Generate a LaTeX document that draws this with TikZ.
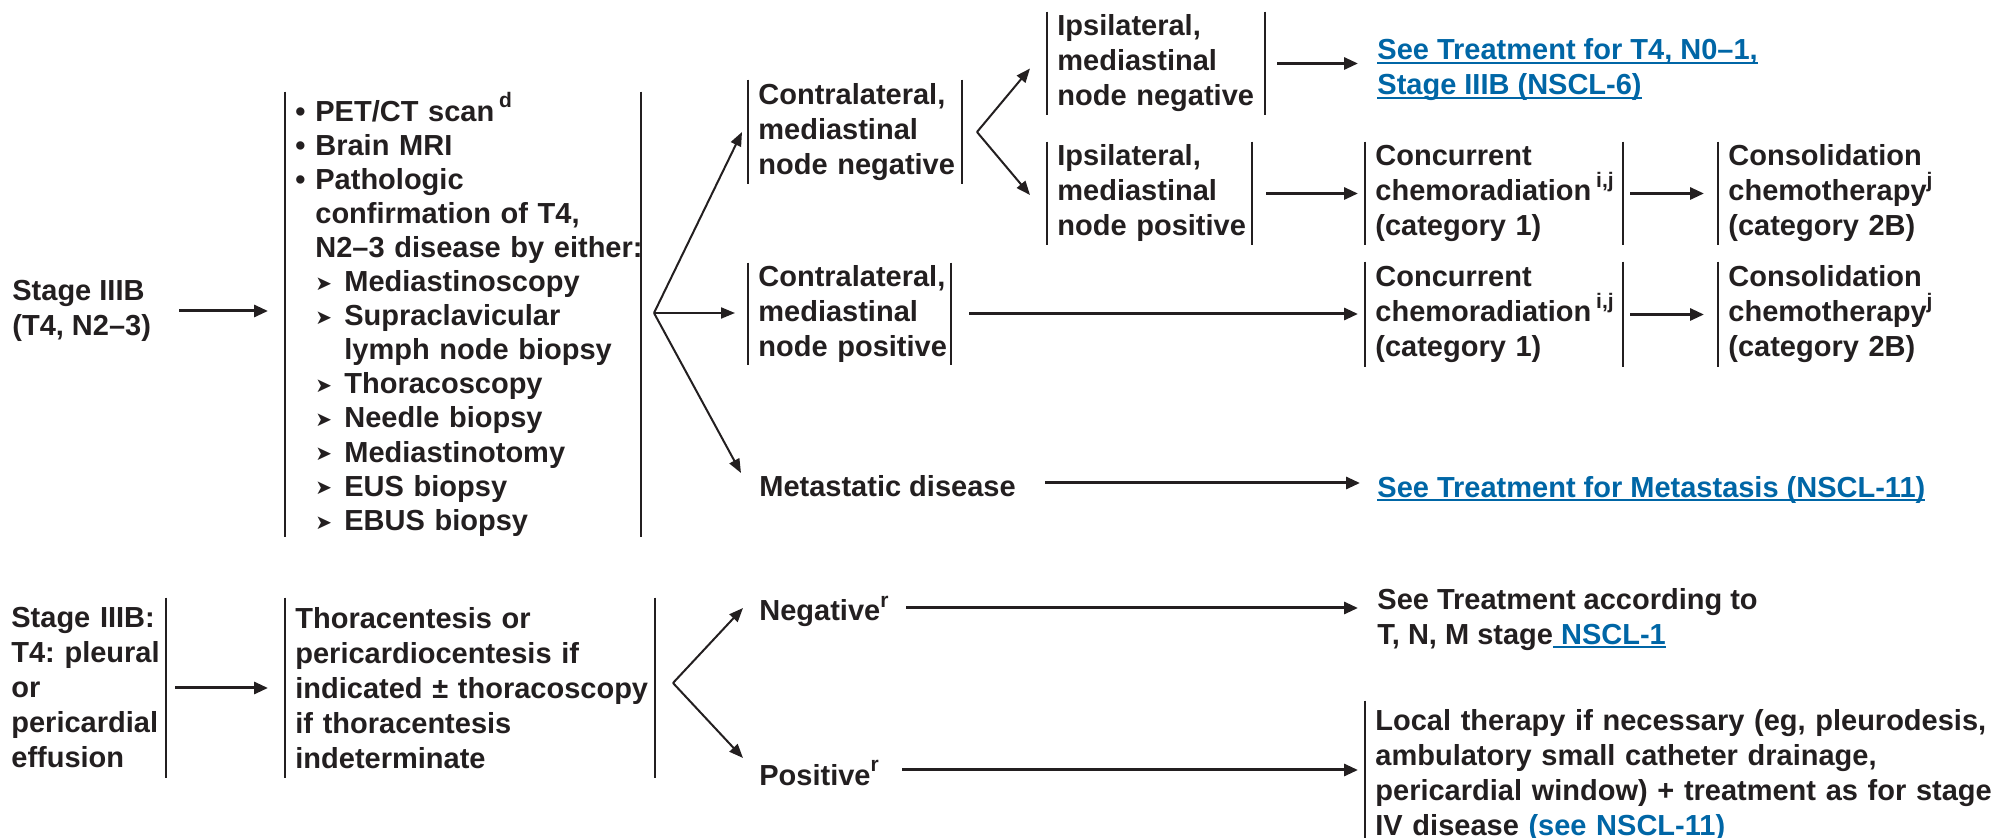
\documentclass[tikz,border=0pt]{standalone}
\usepackage{fontspec}
\setmainfont{Liberation Sans}
\newfontfamily\dejavu{DejaVu Sans}
\usetikzlibrary{arrows.meta}
\setlength\parindent{0pt}
\frenchspacing
\definecolor{ink}{RGB}{35,31,32}
\definecolor{link}{RGB}{0,102,166}
% small raised footnote letters
\newcommand\supr[1]{\raisebox{0.85ex}{\fontsize{10.5}{10.5}\selectfont #1}}
% underlined cross-reference in link colour
\newcommand\lnk[1]{{\color{link}\setbox0\hbox{#1}\rlap{\rule[-1.9pt]{\wd0}{1.1pt}}\box0}}
% list markers
\newcommand\tri{\makebox[14.5pt][l]{\raisebox{0.6pt}{\dejavu\fontsize{10}{10}\selectfont ➤}}}
\newcommand\bul{\makebox[10pt][l]{\textbullet}}
% side rules of a step box
\newcommand\lbar[1]{\draw[bar] (#1.north west) -- (#1.south west);}
\newcommand\rbar[2]{\draw[bar] ([xshift=#2]#1.north west) -- ([xshift=#2]#1.south west);}

\begin{document}
\begin{tikzpicture}[x=0.5pt,y=-0.5pt,
  font=\fontsize{14.5}{17.5}\selectfont\bfseries, text=ink,
  txt/.style={anchor=west, inner sep=0pt, align=left},
  stepbox/.style={anchor=west, inner xsep=5pt, inner ysep=0pt, text width=400pt, align=left},
  bar/.style={draw=ink, line width=1.1pt},
  arr/.style={draw=ink, line width=1.5pt, -{Triangle[length=7pt,width=6pt]}},
  fan/.style={draw=ink, line width=1pt, -{Triangle[length=7pt,width=5.5pt]}}]
\useasboundingbox (0,0) rectangle (1993,838);

% ---- Stage IIIB (T4, N2-3)
\node[txt] (s1) at (12,311) {Stage IIIB\\(T4, N2–3)};
\node[stepbox, minimum height=222.5pt, font=\fontsize{14.5}{17.05}\selectfont\bfseries] (b2) at (285,314.5) {%
\bul PET/CT scan\,\supr{d}\\
\bul Brain MRI\\
\bul Pathologic\\
\hspace*{10pt}confirmation of T4,\\
\hspace*{10pt}N2–3 disease by either:\\
\hspace*{10pt}\tri Mediastinoscopy\\
\hspace*{10pt}\tri Supraclavicular\\
\hspace*{24.5pt}lymph node biopsy\\
\hspace*{10pt}\tri Thoracoscopy\\
\hspace*{10pt}\tri Needle biopsy\\
\hspace*{10pt}\tri Mediastinotomy\\
\hspace*{10pt}\tri EUS biopsy\\
\hspace*{10pt}\tri EBUS biopsy};
\lbar{b2}\rbar{b2}{178pt}

\node[stepbox, minimum height=52pt] (cn) at (748,132) {Contralateral,\\mediastinal\\node negative};
\lbar{cn}\rbar{cn}{107pt}
\node[stepbox, minimum height=51.5pt] (in) at (1047,63.5) {Ipsilateral,\\mediastinal\\node negative};
\lbar{in}\rbar{in}{109pt}
\node[stepbox, minimum height=51.5pt] (ip) at (1047,193.5) {Ipsilateral,\\mediastinal\\node positive};
\lbar{ip}\rbar{ip}{102.5pt}
\node[stepbox, minimum height=51.5pt] (cc1) at (1365,193.5) {Concurrent\\chemoradiation\,\supr{i,j}\\(category 1)};
\lbar{cc1}\rbar{cc1}{129pt}
\node[stepbox, minimum height=51.5pt] (cs1) at (1718,193.5) {Consolidation\\chemotherapy\supr{j}\\(category 2B)};
\lbar{cs1}
\node[stepbox, minimum height=51pt] (cp) at (748,314) {Contralateral,\\mediastinal\\node positive};
\lbar{cp}\rbar{cp}{101.5pt}
\node[stepbox, minimum height=52.5pt] (cc2) at (1365,314.5) {Concurrent\\chemoradiation\,\supr{i,j}\\(category 1)};
\lbar{cc2}\rbar{cc2}{129pt}
\node[stepbox, minimum height=52.5pt] (cs2) at (1718,314.5) {Consolidation\\chemotherapy\supr{j}\\(category 2B)};
\lbar{cs2}
\node[txt] (met) at (759,486) {Metastatic disease};
\node[txt] (l1) at (1377,70) {\lnk{See Treatment for T4, N0–1,}\\\lnk{Stage IIIB (NSCL-6)}};
\node[txt] (l2) at (1377,490) {\lnk{See Treatment for Metastasis (NSCL-11)}};

\draw[arr] ([xshift=-53pt]s1.east -| b2.west) -- ([xshift=-8.5pt]s1.east -| b2.west);
\coordinate (f1) at (654,313);
\draw[fan] (f1) -- ([xshift=-3pt]cn.west);
\draw[fan] (f1) -- ([xshift=-6.5pt]f1 -| cp.west);
\draw[fan] (f1) -- ([xshift=-9pt,yshift=6.5pt]met.west);
\coordinate (f2) at (977,132);
\draw[fan] (f2) -- ([xshift=-8.5pt,yshift=-2.5pt]in.west);
\draw[fan] (f2) -- ([xshift=-8.5pt,yshift=-0.75pt]ip.west);
\draw[arr] ([xshift=115pt]in.west) -- ([xshift=-9.5pt]in.west -| l1.west);
\draw[arr] ([xshift=109.5pt]ip.west) -- ([xshift=-3.5pt]cc1.west);
\draw[arr] ([xshift=132.5pt]cc1.west) -- ([xshift=-7pt]cs1.west);
\draw[arr] ([xshift=110.5pt]cp.west) -- ([xshift=-3.5pt]cp.west -| cc2.west);
\draw[arr] ([xshift=132.5pt]cc2.west) -- ([xshift=-7pt]cs2.west);
\draw[arr] ([xshift=143pt,yshift=1.5pt]met.west) -- ([xshift=-8.5pt,yshift=1.5pt]met.west -| l2.west);

% ---- Stage IIIB with effusion
\node[stepbox, minimum height=90pt] (s2) at (1,688) {Stage IIIB:\\T4: pleural\\or\\pericardial\\effusion};
\rbar{s2}{82.5pt}
\node[stepbox, minimum height=90pt] (th) at (285,688) {Thoracentesis or\\pericardiocentesis if\\indicated ± thoracoscopy\\if thoracentesis\\indeterminate};
\lbar{th}\rbar{th}{185pt}
\node[txt] (neg) at (759,611) {Negative\supr{r}};
\node[txt] (pos) at (759,773) {Positive\supr{r}};
\node[txt] (st) at (1377,619.5) {See Treatment according to\\T, N, M stage\lnk{\ NSCL-1}};
\node[stepbox, minimum height=74.5pt] (lt) at (1365,775.5) {Local therapy if necessary (eg, pleurodesis,\\ambulatory small catheter drainage,\\pericardial window) + treatment as for stage\\IV disease {\color{link}(see NSCL-11)}};
\lbar{lt}

\draw[arr] ([xshift=87pt]s2.west) -- ([xshift=-8.5pt]th.west);
\coordinate (f3) at (673,683);
\draw[fan] (f3) -- ([xshift=-8pt,yshift=1.5pt]neg.west);
\draw[fan] (f3) -- ([xshift=-8pt,yshift=7.5pt]pos.west);
\draw[arr] ([xshift=73.5pt,yshift=1.5pt]neg.west) -- ([xshift=-9.5pt,yshift=1.5pt]neg.west -| st.west);
\draw[arr] ([xshift=71.5pt,yshift=1.5pt]pos.west) -- ([xshift=-3.5pt,yshift=1.5pt]pos.west -| lt.west);
\end{tikzpicture}
\end{document}
